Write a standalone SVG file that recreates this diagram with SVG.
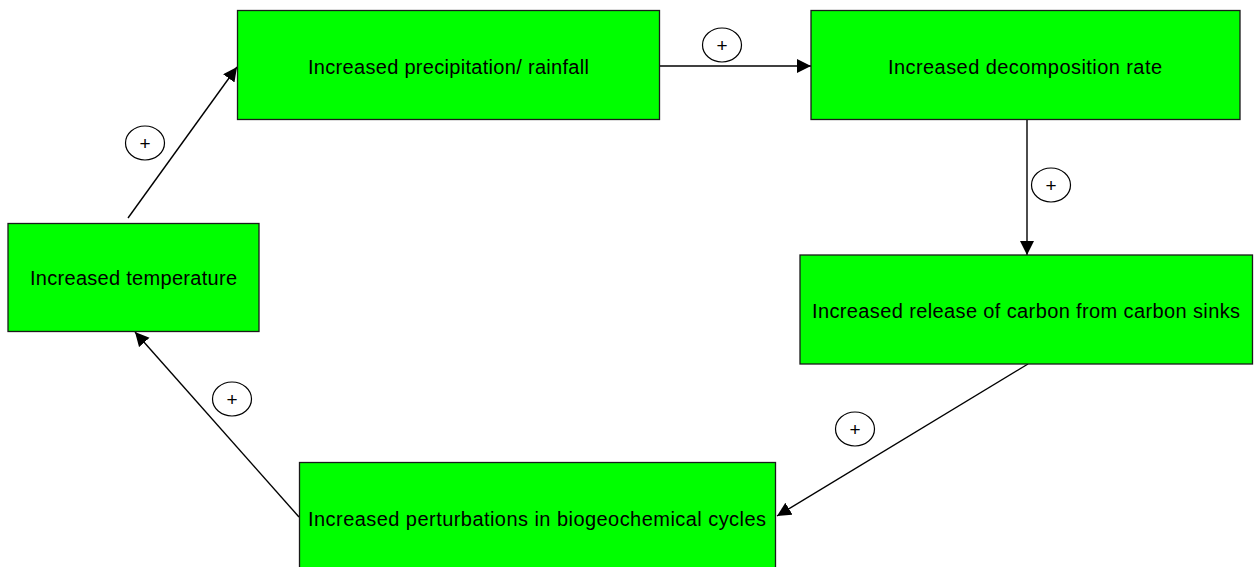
<svg xmlns="http://www.w3.org/2000/svg" width="1254" height="567" viewBox="0 0 1254 567">
  <style>
    .box { fill: #00ff00; stroke: #1a1a1a; stroke-width: 1.3; }
    .label { font-family: "Liberation Sans", Arial, sans-serif; font-size: 20px; fill: #000; text-anchor: middle; }
    .link { stroke: #000; stroke-width: 1.4; fill: none; marker-end: url(#arrow); }
    .sign { fill: #fff; stroke: #000; stroke-width: 1.2; }
    .signtext { font-family: "Liberation Sans", Arial, sans-serif; font-size: 19px; fill: #000; text-anchor: middle; }
  </style>
  <defs>
    <marker id="arrow" markerUnits="userSpaceOnUse" markerWidth="15" markerHeight="15" refX="14" refY="7" orient="auto">
      <path d="M0,0 L14,7 L0,14 z" fill="#000"/>
    </marker>
  </defs>
  <rect width="1254" height="567" fill="#fff"/>

  <!-- causal links -->
  <g id="connectors">
    <line class="link" x1="128" y1="218" x2="237" y2="67"/>
    <line class="link" x1="660" y1="66" x2="811" y2="66"/>
    <line class="link" x1="1027" y1="120" x2="1027" y2="255"/>
    <line class="link" x1="1028" y1="364" x2="777" y2="516"/>
    <line class="link" x1="299" y1="517" x2="135" y2="332"/>

    <ellipse class="sign" cx="145" cy="143" rx="19.5" ry="17"/>
    <text class="signtext" x="145" y="149.5">+</text>
    <ellipse class="sign" cx="722" cy="45" rx="19.5" ry="17"/>
    <text class="signtext" x="722" y="51.5">+</text>
    <ellipse class="sign" cx="1051" cy="185" rx="19.5" ry="17"/>
    <text class="signtext" x="1051" y="191.5">+</text>
    <ellipse class="sign" cx="855" cy="429" rx="19.5" ry="17"/>
    <text class="signtext" x="855" y="435.5">+</text>
    <ellipse class="sign" cx="232" cy="399" rx="19.5" ry="17"/>
    <text class="signtext" x="232" y="405.5">+</text>
  </g>

  <g id="temperature">
    <rect class="box" x="8" y="223.5" width="251" height="108"/>
    <text class="label" x="133.5" y="284.5" textLength="207" lengthAdjust="spacing">Increased temperature</text>
  </g>

  <g id="precipitation">
    <rect class="box" x="237.5" y="10.5" width="422" height="109"/>
    <text class="label" x="448.5" y="73.5" textLength="281" lengthAdjust="spacing">Increased precipitation/ rainfall</text>
  </g>

  <g id="decomposition">
    <rect class="box" x="811" y="10.5" width="429" height="109"/>
    <text class="label" x="1025" y="73.5" textLength="274" lengthAdjust="spacing">Increased decomposition rate</text>
  </g>

  <g id="carbon-release">
    <rect class="box" x="800" y="255" width="452.5" height="109"/>
    <text class="label" x="1026" y="318" textLength="428" lengthAdjust="spacing">Increased release of carbon from carbon sinks</text>
  </g>

  <g id="biogeochemical">
    <rect class="box" x="299.5" y="462.5" width="476" height="120"/>
    <text class="label" x="537" y="525.5" textLength="458" lengthAdjust="spacing">Increased perturbations in biogeochemical cycles</text>
  </g>
</svg>
